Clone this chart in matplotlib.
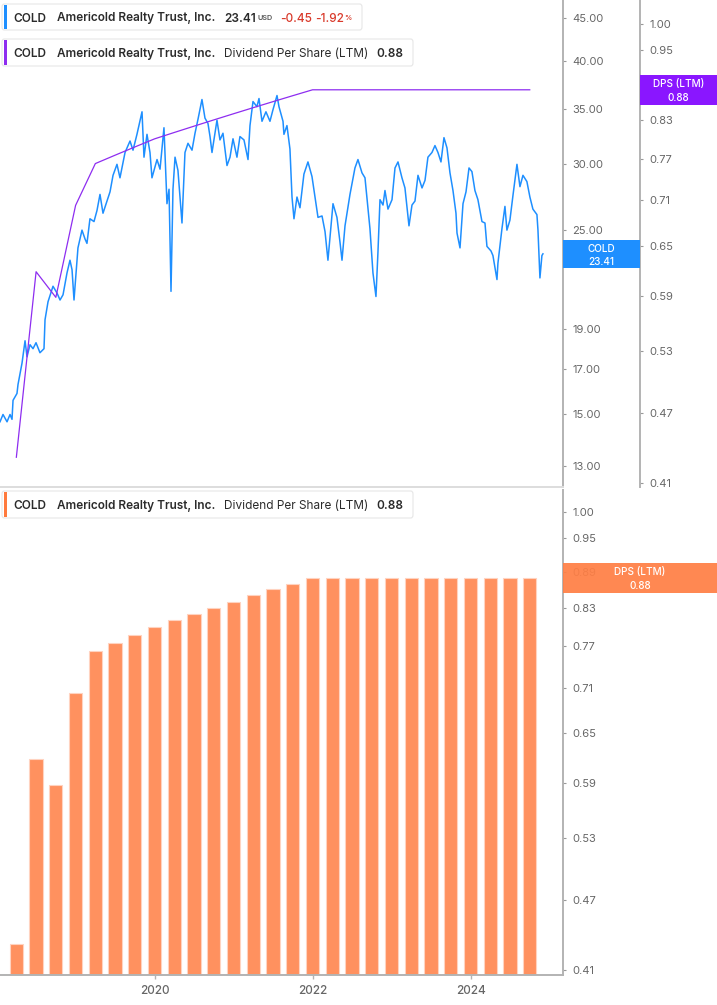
import matplotlib
matplotlib.use("Agg")
import matplotlib.pyplot as plt
from matplotlib.patches import Rectangle, FancyBboxPatch
from matplotlib.ticker import NullLocator, FixedLocator, FixedFormatter

plt.rcParams['font.family'] = ['Inter', 'DejaVu Sans']

# ---- data ----
# price, decimal year
price_t = [2018.043, 2018.081, 2018.132, 2018.170, 2018.195, 2018.208, 2018.258, 2018.271,
           2018.322, 2018.360, 2018.385, 2018.423, 2018.461, 2018.499, 2018.549, 2018.575,
           2018.600, 2018.613, 2018.651, 2018.714, 2018.765, 2018.803, 2018.841, 2018.891,
           2018.929, 2018.955, 2018.980, 2019.030, 2019.081, 2019.119, 2019.144, 2019.182,
           2019.233, 2019.271, 2019.309, 2019.347, 2019.398, 2019.436, 2019.474, 2019.524,
           2019.562, 2019.626, 2019.689, 2019.727, 2019.777, 2019.841, 2019.866, 2019.904,
           2019.942, 2019.967, 2020.031, 2020.069, 2020.119, 2020.157, 2020.183, 2020.208,
           2020.233, 2020.259, 2020.296, 2020.347, 2020.385, 2020.423, 2020.474, 2020.512,
           2020.550, 2020.600, 2020.638, 2020.676, 2020.702, 2020.727, 2020.790, 2020.828,
           2020.866, 2020.917, 2020.955, 2020.993, 2021.043, 2021.081, 2021.132, 2021.183,
           2021.208, 2021.246, 2021.296, 2021.322, 2021.360, 2021.410, 2021.461, 2021.499,
           2021.550, 2021.575, 2021.626, 2021.638, 2021.676, 2021.714, 2021.740, 2021.765,
           2021.803, 2021.841, 2021.891, 2021.942, 2021.993, 2022.031, 2022.069, 2022.120,
           2022.158, 2022.195, 2022.259, 2022.309, 2022.347, 2022.373, 2022.411, 2022.474,
           2022.537, 2022.575, 2022.626, 2022.664, 2022.702, 2022.727, 2022.765, 2022.803,
           2022.828, 2022.854, 2022.892, 2022.917, 2022.955, 2023.006, 2023.044, 2023.082,
           2023.132, 2023.170, 2023.221, 2023.259, 2023.297, 2023.335, 2023.386, 2023.424,
           2023.461, 2023.512, 2023.550, 2023.588, 2023.626, 2023.664, 2023.702, 2023.740,
           2023.778, 2023.816, 2023.829, 2023.867, 2023.905, 2023.943, 2023.981, 2024.018,
           2024.056, 2024.094, 2024.145, 2024.183, 2024.208, 2024.259, 2024.284, 2024.335,
           2024.347, 2024.398, 2024.436, 2024.461, 2024.499, 2024.537, 2024.588, 2024.626,
           2024.664, 2024.714, 2024.752, 2024.790, 2024.841, 2024.854, 2024.879, 2024.904,
           2024.917]
price = [14.7, 15.0, 14.7, 15.0, 14.8, 15.6, 15.9, 16.3,
         17.3, 18.4, 17.6, 18.2, 18.0, 18.3, 17.8, 17.9,
         18.0, 19.5, 20.5, 21.4, 21.0, 20.6, 20.9, 22.2,
         23.0, 22.4, 20.6, 23.8, 25.0, 24.4, 24.1, 25.8,
         25.6, 26.4, 27.6, 26.2, 27.1, 27.8, 29.1, 30.0,
         28.9, 31.0, 32.0, 31.2, 32.6, 34.7, 30.6, 32.6,
         31.0, 28.9, 30.4, 29.6, 33.2, 26.9, 28.0, 21.1,
         28.0, 30.6, 29.5, 25.5, 31.0, 31.8, 31.2, 32.7,
         34.0, 35.9, 34.1, 33.6, 32.4, 31.0, 33.9, 32.1,
         32.7, 29.9, 30.6, 32.2, 30.6, 32.4, 32.1, 30.4,
         33.4, 35.7, 35.2, 36.0, 33.8, 34.7, 33.8, 34.9,
         36.3, 35.2, 33.8, 32.6, 33.4, 31.3, 27.4, 25.8,
         27.4, 26.6, 29.2, 30.2, 29.0, 27.4, 25.9, 26.0,
         24.9, 23.0, 26.9, 25.9, 24.2, 23.0, 25.3, 27.6,
         29.7, 30.4, 29.3, 28.9, 26.5, 25.1, 22.2, 20.8,
         23.5, 27.2, 26.8, 27.9, 26.5, 27.2, 29.7, 30.2,
         28.9, 28.1, 25.3, 26.8, 27.1, 29.1, 28.1, 28.7,
         30.6, 31.0, 31.6, 31.0, 30.2, 32.3, 31.4, 29.3,
         27.9, 26.2, 24.8, 23.8, 26.9, 27.8, 29.7, 29.4,
         27.9, 27.2, 25.6, 25.5, 23.9, 23.6, 23.3, 21.8,
         22.8, 25.1, 26.7, 25.0, 25.7, 27.5, 30.0, 28.2,
         29.1, 28.6, 27.4, 26.5, 26.1, 25.0, 21.9, 23.3,
         23.41]

# dividend per share (LTM), quarterly
dps_t = [2018.25, 2018.50, 2018.75, 2019.00, 2019.25, 2019.50, 2019.75, 2020.00, 2020.25,
         2020.50, 2020.75, 2021.00, 2021.25, 2021.50, 2021.75, 2022.00, 2022.25, 2022.50,
         2022.75, 2023.00, 2023.25, 2023.50, 2023.75, 2024.00, 2024.25, 2024.50, 2024.75]
dps = [0.431, 0.618, 0.588, 0.703, 0.7625, 0.775, 0.7875, 0.80, 0.81,
       0.82, 0.83, 0.84, 0.85, 0.86, 0.87, 0.88, 0.88, 0.88,
       0.88, 0.88, 0.88, 0.88, 0.88, 0.88, 0.88, 0.88, 0.88]

price_ticks = [13, 15, 17, 19, 25, 30, 35, 40, 45]
dps_ticks_top = [0.41, 0.47, 0.53, 0.59, 0.65, 0.71, 0.77, 0.83, 0.95, 1.00]
dps_ticks = [0.41, 0.47, 0.53, 0.59, 0.65, 0.71, 0.77, 0.83, 0.89, 0.95, 1.00]
year_ticks = [2020, 2022, 2024]

BLUE = '#1E8FFF'
PURPLE = '#8E2DF0'
ORANGE = '#FF915F'
GRID_GRAY = '#b3b3b3'
LABEL_GRAY = '#666666'

W, H = 717, 1005
fig = plt.figure(figsize=(W / 100, H / 100), dpi=100)


def fx(x):
    return x / W


def fy(y):
    return 1 - y / H


def style_right_axis(ax, ticks, fmt):
    ax.yaxis.set_major_locator(FixedLocator(ticks))
    ax.yaxis.set_major_formatter(FixedFormatter([fmt % t for t in ticks]))
    ax.yaxis.set_minor_locator(NullLocator())
    ax.yaxis.set_ticks_position('right')
    ax.yaxis.set_label_position('right')
    ax.tick_params(axis='y', which='both', left=False, labelleft=False, right=True, labelright=True,
                   length=2.2, width=0.8, color='#999999', pad=4.3, labelsize=8, labelcolor=LABEL_GRAY)


x_lo, x_hi = 2018.043, 2025.171

# ---- top panel: price + DPS line ----
ax_top = fig.add_axes([0, fy(487), fx(563), 487 / H])
ax_top2 = ax_top.twinx()

ax_top.plot(price_t, price, color=BLUE, lw=1.1, zorder=3)
ax_top.set_yscale('log')
ax_top.set_ylim(12.27, 47.3)
ax_top.set_xlim(x_lo, x_hi)
style_right_axis(ax_top, price_ticks, '%.2f')
ax_top.set_xticks([])
for s in ('left', 'top'):
    ax_top.spines[s].set_visible(False)
ax_top.spines['right'].set_color(GRID_GRAY)
ax_top.spines['right'].set_linewidth(1.4)
ax_top.spines['bottom'].set_color('#dddddd')
ax_top.spines['bottom'].set_linewidth(1.4)

ax_top2.plot(dps_t, dps, color=PURPLE, lw=0.9, zorder=2)
ax_top2.set_yscale('log')
ax_top2.set_ylim(0.4068, 1.0477)
ax_top2.set_xlim(x_lo, x_hi)
style_right_axis(ax_top2, dps_ticks_top, '%.2f')
for s in ('left', 'top', 'bottom'):
    ax_top2.spines[s].set_visible(False)
ax_top2.spines['right'].set_position(('axes', 640 / 563))
ax_top2.spines['right'].set_color(GRID_GRAY)
ax_top2.spines['right'].set_linewidth(1.4)

# ---- bottom panel: DPS bars ----
ax_bot = fig.add_axes([0, fy(975), fx(563), 485 / H])
ax_bot.bar(dps_t, dps, width=0.168, color=ORANGE, edgecolor='#FFD3C0', linewidth=0.8, zorder=2)
ax_bot.set_yscale('log')
ax_bot.set_ylim(0.406, 1.0437)
ax_bot.set_xlim(x_lo, x_hi)
style_right_axis(ax_bot, dps_ticks, '%.2f')
ax_bot.set_xticks(year_ticks)
ax_bot.set_xticklabels([str(y) for y in year_ticks])
ax_bot.tick_params(axis='x', length=3, width=1, color=GRID_GRAY, pad=4, labelsize=8.5,
                   labelcolor=LABEL_GRAY)
for lab in ax_bot.get_xticklabels():
    lab.set_fontweight('medium')
for s in ('left', 'top'):
    ax_bot.spines[s].set_visible(False)
for s in ('right', 'bottom'):
    ax_bot.spines[s].set_color(GRID_GRAY)
    ax_bot.spines[s].set_linewidth(1.4)


# ---- legend boxes ----
def legend_box(y0, y1, x1, color, parts):
    fig.patches.append(FancyBboxPatch((fx(2), fy(y1)), fx(x1) - fx(2), fy(y0) - fy(y1),
                                      boxstyle='round,pad=0,rounding_size=0.003',
                                      transform=fig.transFigure, facecolor='white',
                                      edgecolor='#e6e6e6', linewidth=0.8, zorder=5))
    fig.patches.append(Rectangle((fx(4), fy(y1 - 1)), fx(3), (y1 - y0 - 2) / H,
                                 transform=fig.transFigure, facecolor=color,
                                 edgecolor='none', zorder=6))
    yc = (y0 + y1) / 2
    for x, txt, size, weight, col in parts:
        fig.text(fx(x), fy(yc), txt, fontsize=size, fontweight=weight, color=col,
                 ha='left', va='center_baseline', zorder=7)


DARK = '#2b2b2b'
RED = '#D93A2B'
FS = 8.5
name_parts = [(13, 'COLD', FS, 'semibold', DARK),
              (57, 'Americold Realty Trust, Inc.', FS, 'semibold', DARK)]
legend_box(4, 30, 362, BLUE, name_parts + [
    (224, '23.41', FS, 'semibold', DARK),
    (257, 'USD', 5.2, 'semibold', '#555555'),
    (280, '-0.45', FS, 'medium', RED),
    (315, '-1.92', FS, 'medium', RED),
    (344, '%', 5.2, 'semibold', RED),
])
dps_parts = name_parts + [(224, 'Dividend Per Share (LTM)', FS, 'normal', DARK),
                          (376, '0.88', FS, 'semibold', DARK)]
legend_box(39, 66, 413, PURPLE, dps_parts)
legend_box(491, 518, 413, '#FF7A3D', dps_parts)


# ---- value badges on the right axes ----
def badge(x0, x1, y0, y1, color, lines, alpha=1.0):
    fig.patches.append(Rectangle((fx(x0), fy(y1)), fx(x1) - fx(x0), (y1 - y0) / H,
                                 transform=fig.transFigure, facecolor=color, alpha=alpha,
                                 edgecolor='none', zorder=8))
    xc = (x0 + x1) / 2
    n = len(lines)
    for i, txt in enumerate(lines):
        yc = y0 + (y1 - y0) * (i + 0.5) / n + (0.5 if i == 0 else -0.5)
        fig.text(fx(xc), fy(yc), txt, fontsize=7.2, fontweight='medium', color='white',
                 ha='center', va='center_baseline', zorder=9)


badge(563, 640, 240, 268, BLUE, ['COLD', '23.41'])
badge(640, 717, 75, 105, '#8A16FF', ['DPS (LTM)', '0.88'])
badge(563, 717, 563, 593, '#FF7F45', ['DPS (LTM)', '0.88'], alpha=0.93)

fig.savefig('out.png', dpi=100, facecolor='white')
